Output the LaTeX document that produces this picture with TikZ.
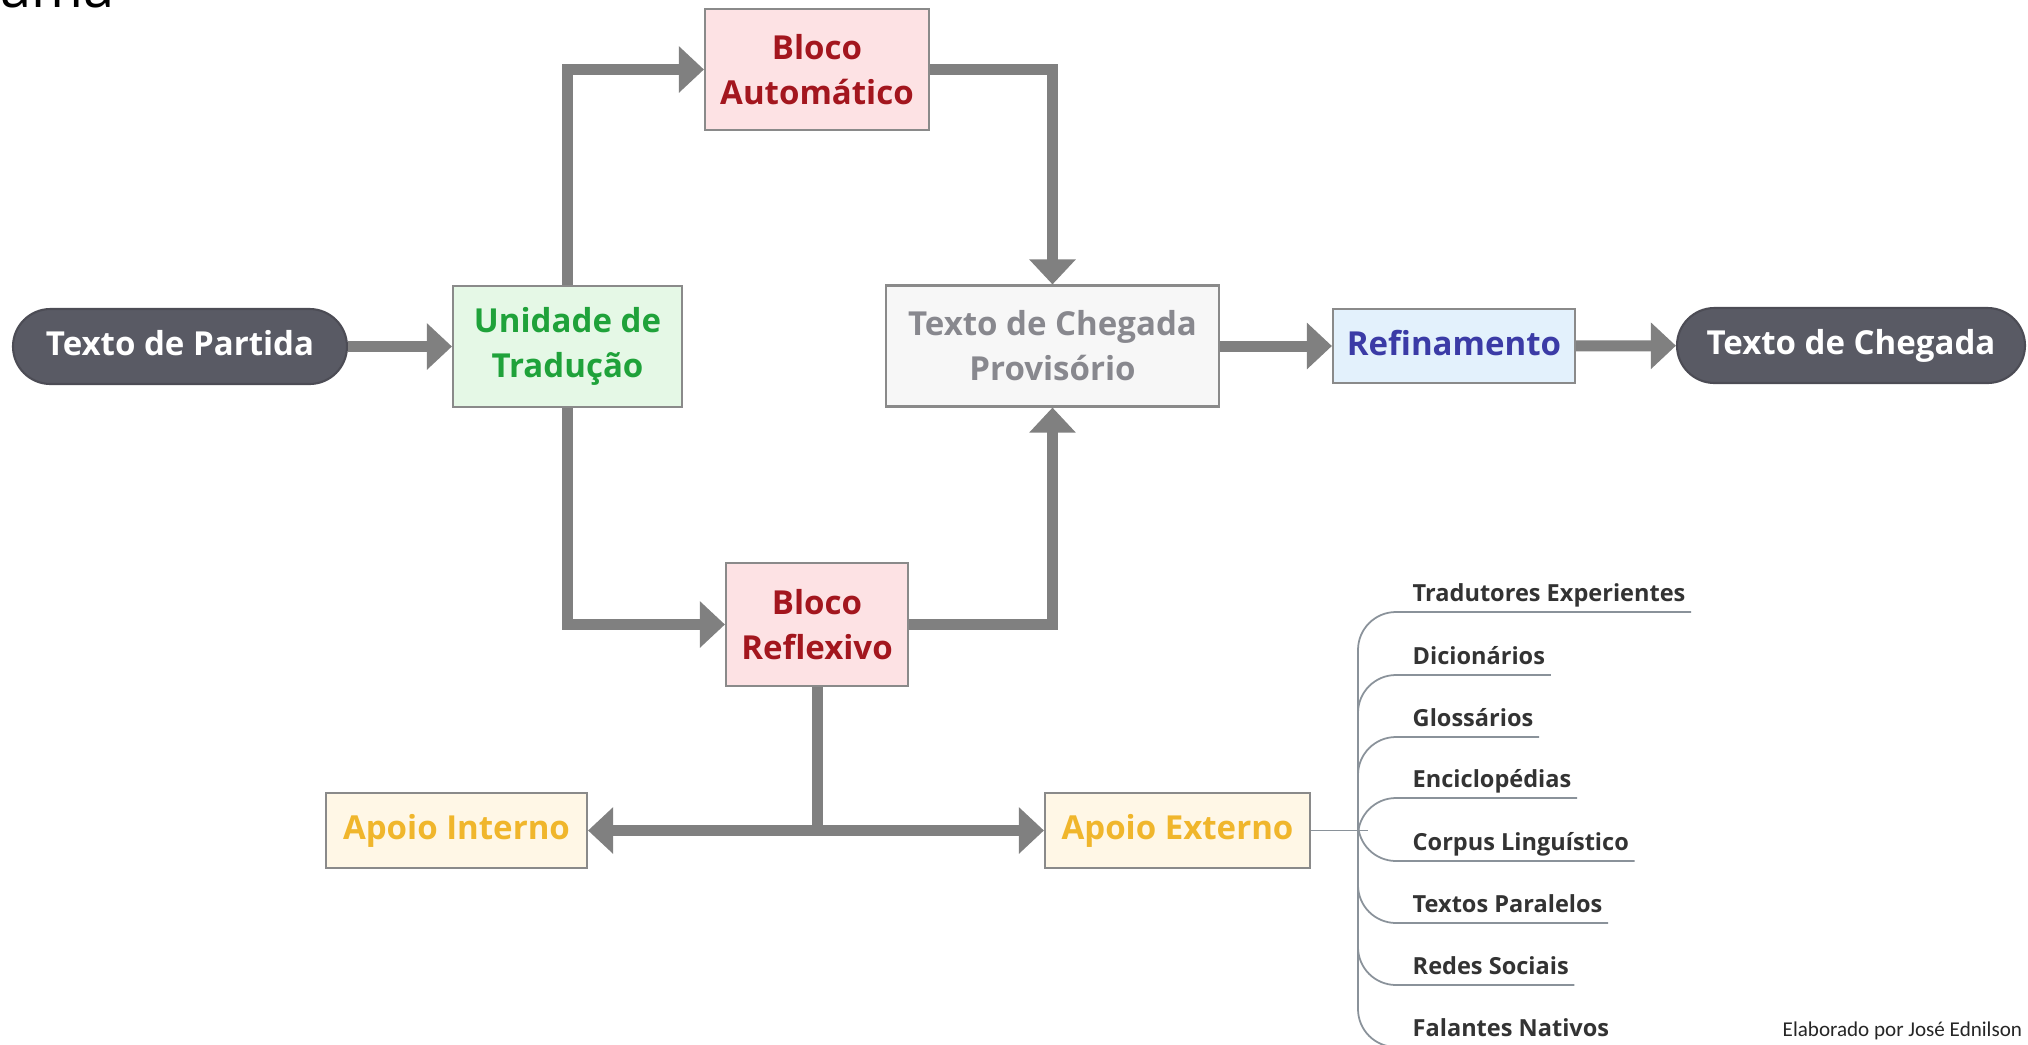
\documentclass[tikz,border=0pt]{standalone}
\usepackage{fontspec}
\setmainfont{Open Sans}
\newfontfamily\rodape{Carlito}
\usepackage{tikz}
\usepackage{xcolor}
\usetikzlibrary{arrows.meta, positioning}

\definecolor{escuro}{HTML}{595A64}
\definecolor{borda}{HTML}{8A8A8A}
\definecolor{cinza}{HTML}{808080}
\definecolor{verde}{HTML}{1FA23A}
\definecolor{fverde}{HTML}{E5F8E6}
\definecolor{vinho}{HTML}{A3161E}
\definecolor{frosa}{HTML}{FDE2E4}
\definecolor{cprov}{HTML}{88888E}
\definecolor{fprov}{HTML}{F7F7F7}
\definecolor{azul}{HTML}{3B3BA6}
\definecolor{fazul}{HTML}{E3F1FC}
\definecolor{ouro}{HTML}{F0B62C}
\definecolor{fouro}{HTML}{FFF7E6}
\definecolor{galho}{HTML}{8A929A}

\begin{document}
\begin{tikzpicture}[
          caixa/.style={draw=borda, line width=0.6pt, align=center, inner sep=0pt,
            font=\bfseries\fontsize{9.4}{12.8}\selectfont},
          umalinha/.style={caixa, text height=0.75em, text depth=0.22em},
          pilula/.style={umalinha, fill=escuro, draw=escuro!85!black, text=white,
            rounded corners=0.375cm, minimum height=0.75cm},
          seta/.style={draw=cinza, line width=0.11cm,
            -{Triangle[length=0.25cm, width=0.45cm]}},
          linha/.style={draw=cinza, line width=0.11cm},
          ramo/.style={draw=galho, line width=0.5pt},
          item/.style={anchor=south west, inner xsep=0.05cm, inner ysep=0.1cm,
            text depth=0pt, text=black!80, font=\bfseries\fontsize{6.7}{8}\selectfont}]
          \useasboundingbox (0,0) rectangle (20.28,-10.44);

          \node[anchor=base west, inner sep=0pt, font=\fontsize{15.9}{18}\selectfont] (titulo) at (0,-0.07) {ama};

          \node[pilula, minimum width=3.34cm] (partida) at (1.80,-3.465) {Texto de Partida};
          \node[caixa, fill=fverde, text=verde, minimum width=2.29cm, minimum height=1.21cm] (unidade) at (5.675,-3.465) {Unidade de\\Tradução};
          \node[caixa, fill=frosa, text=vinho, minimum width=2.24cm, minimum height=1.21cm] (automatico) at (8.17,-0.695) {Bloco\\Automático};
          \node[caixa, fill=fprov, text=cprov, minimum width=3.33cm, minimum height=1.21cm] (provisorio) at (10.525,-3.46) {Texto de Chegada\\Provisório};
          \node[umalinha, fill=fazul, text=azul, minimum width=2.42cm, minimum height=0.74cm] (refinamento) at (14.54,-3.46) {Refinamento};
          \node[pilula, minimum width=3.48cm] (chegada) at (18.51,-3.455) {Texto de Chegada};
          \node[caixa, fill=frosa, text=vinho, minimum width=1.82cm, minimum height=1.23cm] (reflexivo) at (8.17,-6.245) {Bloco\\Reflexivo};
          \node[umalinha, fill=fouro, text=ouro, minimum width=2.61cm, minimum height=0.75cm] (interno) at (4.565,-8.305) {Apoio Interno};
          \node[umalinha, fill=fouro, text=ouro, minimum width=2.65cm, minimum height=0.75cm] (externo) at (11.775,-8.305) {Apoio Externo};

          \draw[seta] (partida) -- (unidade);
          \draw[seta] (unidade.north) |- (automatico.west);
          \draw[seta] (automatico.east) -| (provisorio.north);
          \draw[seta] (unidade.south) |- (reflexivo.west);
          \draw[seta] (reflexivo.east) -| (provisorio.south);
          \draw[seta] (provisorio) -- (refinamento);
          \draw[seta] (refinamento) -- (chegada);

          \coordinate (juncao) at (reflexivo.south |- interno.east);
          \draw[linha] (reflexivo.south) -- (juncao);
          \draw[seta] (juncao) -- (interno);
          \draw[seta] (juncao) -- (externo);

          % recursos externos
          \coordinate (tronco) at (13.68,-8.305);
          \draw[ramo] (externo) -- (tronco);
          \draw[ramo] (13.58,-6.50) -- (13.58,-10.09);
          \foreach \y/\a/\texto [count=\i] in {6.12/90/Tradutores Experientes, 6.75/90/Dicionários,
              7.37/90/Glossários, 7.98/90/Enciclopédias, 8.61/-90/Corpus Linguístico,
              9.23/-90/Textos Paralelos, 9.85/-90/Redes Sociais, 10.47/-90/Falantes Nativos} {
            \node[item] (item\i) at (14.07,-\y) {\texto};
            \draw[ramo] (13.58,{-\y-0.38*sin(\a)}) to[out=\a, in=180] (13.96,-\y) -- (item\i.south east);
          }

          \node[anchor=base west, inner sep=0pt, text=black!85, font=\rodape\fontsize{6}{7}\selectfont] (autor) at (17.82,-10.36) {Elaborado por José Ednilson};
        \end{tikzpicture}
\end{document}
